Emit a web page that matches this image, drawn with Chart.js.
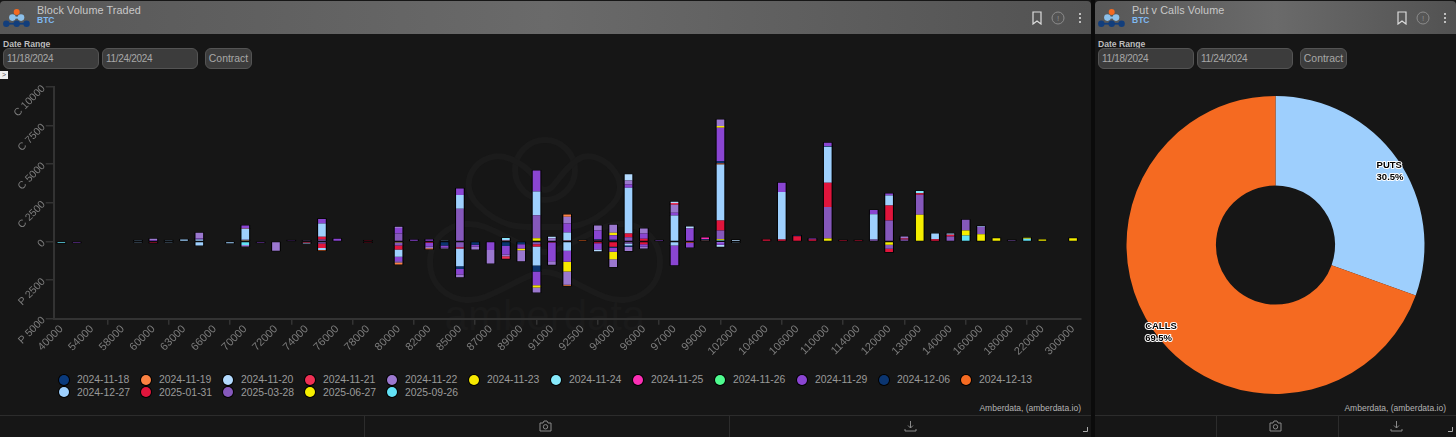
<!DOCTYPE html>
<html>
<head>
<meta charset="utf-8">
<title>Block Volume Traded</title>
<script src="https://cdn.jsdelivr.net/npm/chart.js@4"></script>
<style>
    html, body { margin: 0; padding: 0; background: #0b0b0b; }
    body { position: relative; width: 1456px; height: 437px; overflow: hidden; font-family: "Liberation Sans", sans-serif; }
    .panel { position: absolute; top: 0; height: 437px; background: #161616; overflow: hidden; }
    .head { position: absolute; left: 0; right: 0; top: 1px; height: 33px; background: linear-gradient(90deg, #575757, #6a6a6a 50%, #525252); border-radius: 4px 4px 0 0; }
    .title { position: absolute; left: 37px; top: 3.5px; font-size: 10.8px; letter-spacing: 0.1px; color: #c8c8c8; }
    .sub { position: absolute; left: 37px; top: 14.5px; font-size: 8.5px; font-weight: bold; color: #7fb9f2; }
    .range { position: absolute; left: 3px; top: 38.5px; font-size: 8.6px; font-weight: bold; color: #bdbdbd; }
    .inp { position: absolute; top: 48px; height: 19px; line-height: 19px; box-sizing: content-box; background: #3c3c3c; border: 1px solid #545454; border-radius: 6px; color: #a8a8a8; font-size: 10px; letter-spacing: -0.3px; text-indent: 3px; }
    .btn { font-size: 10.4px; letter-spacing: 0; text-align: center; text-indent: 0; width: 45px; }
    .credit { position: absolute; top: 403px; font-size: 8.5px; color: #b4b4b4; }
    .foot { position: absolute; left: 0; right: 0; top: 415px; height: 22px; border-top: 1px solid #2c2c2c; }
    .div { position: absolute; top: 0; bottom: 0; width: 1px; background: #2c2c2c; }
    .panel svg { position: absolute; }
    canvas { position: absolute; }
    #legend { position: absolute; left: 59px; top: 374px; width: 1000px; }
    #legend .item { float: left; width: 82px; height: 12.7px; line-height: 12.7px; font-size: 10.4px; color: #9a9a9a; white-space: nowrap; }
    #legend i { display: inline-block; width: 10px; height: 10px; border-radius: 50%; margin-right: 8px; vertical-align: -1.5px; box-shadow: 0 0 0 1px #000; }
    #open { position: absolute; left: 0; top: 71px; width: 8px; height: 8px; background: #eee; color: #555; font-size: 7px; line-height: 8px; text-align: center; }
</style>
</head>
<body>
<div class="panel" id="left" style="left:0;width:1091px"></div>
<div class="panel" id="right" style="left:1095px;width:361px"></div>

<script>
// strikes, every second one gets a label on the axis
const strikes = [
    40000, 50000, 54000, 56000, 58000, 59000, 60000, 62000, 63000, 64000,
    66000, 68000, 70000, 71000, 72000, 73000, 74000, 75000, 76000, 77000,
    78000, 79000, 80000, 81000, 82000, 84000, 85000, 86000, 87000, 88000,
    89000, 90000, 91000, 92000, 92500, 93000, 94000, 95000, 96000, 96500,
    97000, 98000, 99000, 100000, 102000, 103000, 104000, 105000, 106000, 108000,
    110000, 112000, 114000, 115000, 120000, 125000, 130000, 135000, 140000, 150000,
    160000, 170000, 180000, 200000, 220000, 260000, 300000
];
const expiries = ["2024-11-18", "2024-11-19", "2024-11-20", "2024-11-21", "2024-11-22", "2024-11-23", "2024-11-24", "2024-11-25", "2024-11-26", "2024-11-29", "2024-12-06", "2024-12-13", "2024-12-27", "2025-01-31", "2025-03-28", "2025-06-27", "2025-09-26"];
const expiryColors = ["#0a3a7c", "#fb8242", "#b3dafe", "#ee3054", "#9b78cf", "#f6e800", "#86e9fb", "#fb2fb4", "#4ffb8f", "#8a45d2", "#0b3570", "#f56b22", "#9ed0fe", "#e0153c", "#8558bb", "#f5ee00", "#62e2f6"];

// call volume per expiry (one value per strike)
const calls1118 = [0,0,0,0,0,0,0,0,0,0, 0,0,0,0,0,0,0,0,0,0, 0,0,0,0,0,0,0,0,0,0, 0,0,0,0,0,0,0,0,0,0, 0,0,0,0,0,0,0,0,0,0, 0,0,0,0,0,0,0,0,0,0, 0,0,0,0,0,0,0];
const calls1119 = [0,0,0,0,0,0,0,0,0,0, 0,0,0,0,0,0,0,0,0,0, 0,0,0,0,0,0,0,0,0,0, 0,0,0,150,0,0,0,0,0,0, 0,0,0,0,0,0,0,0,0,0, 0,0,0,0,0,0,0,0,0,0, 0,0,0,0,0,0,0];
const calls1120 = [0,0,0,0,0,0,0,0,0,0, 0,0,0,0,0,0,0,0,0,0, 0,0,0,0,0,0,0,0,0,0, 0,0,85,0,0,0,0,390,0,0, 85,130,0,0,60,0,0,0,0,0, 0,0,0,0,0,0,0,0,0,0, 0,0,0,0,0,0,0];
const calls1121 = [0,0,0,0,0,0,0,0,0,0, 0,0,0,0,0,0,0,0,0,0, 0,0,0,0,0,0,0,0,0,0, 0,0,0,0,0,0,0,0,0,0, 110,0,0,0,0,0,0,0,0,0, 0,0,0,0,0,0,0,0,0,0, 0,0,0,0,0,0,0];
const calls1122 = [0,0,0,0,0,0,80,0,0,370, 0,0,0,0,0,0,65,0,0,0, 0,0,90,0,0,0,0,0,0,0, 0,0,215,430,0,325,520,260,325,0, 520,0,0,430,40,0,0,0,0,0, 0,0,0,0,0,130,0,0,0,0, 0,0,0,0,0,0,0];
const calls1123 = [0,0,0,0,0,0,0,0,0,0, 0,0,0,0,0,0,0,0,0,0, 0,0,0,0,0,0,0,0,0,0, 0,0,0,0,0,0,150,0,0,0, 0,0,0,110,0,0,0,0,0,0, 0,0,0,0,0,0,0,0,0,0, 0,0,0,0,0,0,0];
const calls1124 = [0,0,0,0,0,0,0,0,0,0, 0,0,0,0,0,0,0,0,0,0, 0,0,0,0,0,0,0,0,0,65, 0,0,0,0,0,0,0,0,0,0, 0,0,0,0,0,0,0,0,0,0, 0,0,0,0,0,0,150,0,0,0, 0,0,0,0,0,0,0];
const calls1125 = [0,0,0,0,0,0,0,0,0,0, 0,0,0,0,0,0,0,0,0,0, 0,0,0,0,0,0,0,0,0,0, 0,0,0,0,0,0,0,0,0,0, 0,0,110,0,0,0,0,0,0,0, 0,0,0,0,0,0,0,0,0,0, 0,0,0,0,0,0,0];
const calls1126 = [0,0,0,0,0,0,0,0,0,0, 0,0,0,0,0,0,0,0,0,0, 0,0,0,0,0,0,0,0,0,0, 0,0,0,0,0,0,0,0,0,0, 0,0,0,0,0,0,0,0,0,0, 0,0,0,0,0,0,0,0,0,0, 0,0,0,0,0,0,0];
const calls1129 = [0,0,0,0,0,0,90,0,0,65, 0,0,195,0,0,70,0,300,170,0, 0,0,350,110,130,0,430,0,0,0, 0,1360,0,580,0,580,300,215,345,75, 175,840,0,2160,0,0,0,605,0,65, 215,0,0,260,130,0,0,0,0,0, 0,0,0,0,0,0,0];
const calls1206 = [0,0,0,0,0,0,0,0,0,0, 0,0,0,0,0,0,0,0,0,0, 0,0,0,0,0,0,0,0,0,0, 0,0,0,0,0,65,110,0,0,0, 0,0,85,150,0,0,0,0,45,0, 45,0,0,0,0,0,0,0,0,0, 0,0,0,0,0,0,0];
const calls1213 = [0,0,0,0,0,0,0,0,0,0, 0,0,20,0,0,0,0,0,0,0, 0,0,0,0,0,0,0,0,0,0, 0,0,0,0,75,0,0,0,0,0, 0,0,65,65,0,0,0,0,0,0, 0,0,0,0,0,0,0,0,0,0, 0,0,0,0,0,0,0];
const calls1227 = [0,0,0,0,0,70,0,70,130,130, 0,0,715,0,0,0,0,860,0,0, 0,0,0,0,0,30,885,0,0,90, 0,1530,0,520,0,0,0,2960,0,0, 1685,0,0,3630,0,0,0,3070,0,0, 2330,0,0,1640,650,0,0,365,85,0, 45,0,0,0,0,0,0];
const calls0131 = [0,0,0,0,0,0,0,0,0,0, 0,0,0,0,0,0,0,170,0,0, 65,0,0,0,0,0,0,0,0,65, 0,0,0,65,0,65,0,240,175,0, 0,0,0,650,0,0,130,130,345,130, 1575,80,80,0,970,65,85,150,110,0, 0,0,0,0,0,0,0];
const calls0328 = [0,0,0,0,0,0,0,0,0,0, 0,0,40,0,0,0,0,130,0,0, 0,0,520,0,0,0,2120,0,0,0, 0,1490,0,0,0,0,0,280,0,0, 0,0,0,560,0,0,0,0,0,0, 2030,0,0,130,1360,130,1300,0,325,690, 475,0,85,0,0,0,0];
const calls0627 = [0,0,0,0,0,0,0,0,0,0, 0,0,65,0,0,0,0,0,0,0, 0,0,0,0,0,0,0,0,0,0, 0,215,0,0,0,0,0,0,0,0, 0,0,0,60,0,0,0,0,0,0, 195,0,0,0,0,0,1730,0,0,325, 430,215,0,65,120,0,215];
const calls0926 = [0,0,0,0,0,0,0,0,0,0, 0,0,0,0,0,0,0,0,0,0, 0,0,0,0,0,0,0,0,0,0, 0,0,0,0,0,0,0,0,0,0, 0,0,0,85,0,0,0,0,0,0, 0,0,0,0,0,0,0,0,0,390, 45,0,0,175,0,0,0];

// put volume per expiry, negative so it stacks below zero
const puts1118 = [0,0,0,0,0,0,0,0,0,0, 0,0,0,0,0,0,0,0,0,0, 0,0,0,0,0,0,0,0,0,0, 0,0,0,0,0,0,0,0,0,0, 0,0,0,0,0,0,0,0,0,0, 0,0,0,0,0,0,0,0,0,0, 0,0,0,0,0,0,0];
const puts1119 = [0,0,0,0,0,0,0,0,0,0, 0,0,0,0,0,0,0,0,0,0, 0,0,-130,0,-60,0,0,0,0,0, 0,0,0,-65,0,0,0,0,0,0, 0,0,0,0,0,0,0,0,0,0, 0,0,0,0,0,0,0,0,0,0, 0,0,0,0,0,0,0];
const puts1120 = [0,0,0,0,0,0,0,0,0,0, 0,0,0,0,0,0,0,0,0,0, 0,0,0,0,0,0,0,0,0,0, 0,0,0,0,0,-110,0,0,0,0, 0,0,0,-130,0,0,0,0,0,0, 0,0,0,0,0,0,0,0,0,0, 0,0,0,0,0,0,0];
const puts1121 = [0,0,0,0,0,0,0,0,0,0, 0,0,0,0,0,0,0,0,0,0, 0,0,0,0,0,0,0,0,0,-175, 0,0,0,0,0,0,0,0,0,0, 0,0,0,0,0,0,0,0,0,0, 0,0,0,0,0,0,0,0,0,0, 0,0,0,0,0,0,0];
const puts1122 = [0,0,0,0,0,0,0,0,0,0, 0,0,-85,0,-600,0,0,0,0,0, 0,0,-90,0,-110,-65,-170,-200,-860,-110, -710,-325,-240,-865,0,0,-500,-280,-130,0, 0,0,0,0,0,0,0,0,0,0, 0,0,0,0,0,0,0,0,0,0, 0,0,0,0,0,0,0];
const puts1123 = [0,0,0,0,0,0,0,0,0,0, 0,0,0,0,0,0,0,0,0,0, 0,0,0,0,0,0,0,0,0,0, -110,-150,0,-625,0,0,-475,0,0,0, 0,0,0,0,0,0,0,0,0,0, 0,0,0,0,0,0,0,0,0,0, 0,0,0,0,0,0,0];
const puts1124 = [0,0,0,0,0,0,0,0,0,0, 0,0,0,0,0,0,0,0,0,0, 0,0,0,0,0,0,0,0,0,0, 0,0,0,0,0,0,0,0,0,0, 0,0,0,0,0,0,0,0,0,0, 0,0,0,0,0,0,0,0,0,0, 0,0,0,0,0,0,0];
const puts1125 = [0,0,0,0,0,0,0,0,0,0, 0,0,0,0,0,0,0,0,0,0, 0,0,0,0,0,0,0,0,0,0, 0,0,0,0,0,0,0,0,0,0, 0,0,0,0,0,0,0,0,0,0, 0,0,0,0,0,0,0,0,0,0, 0,0,0,0,0,0,0];
const puts1126 = [0,0,0,0,0,0,0,0,0,0, 0,0,0,0,0,0,0,0,0,0, 0,0,0,0,0,0,0,0,0,0, 0,0,0,0,0,0,0,0,0,0, 0,0,0,0,0,0,0,0,0,0, 0,0,0,0,0,0,0,0,0,0, 0,0,0,0,0,0,0];
const puts1129 = [0,-75,0,0,0,0,0,0,0,0, 0,0,0,-75,0,0,0,0,0,0, 0,0,-280,0,-240,-130,-370,-100,-560,-540, -280,-885,-1210,-710,0,-410,-260,0,-150,0, -1275,-300,0,-175,0,0,0,0,0,0, 0,0,0,0,0,0,0,0,0,0, 0,0,0,0,0,0,0];
const puts1206 = [0,0,0,0,0,0,0,0,0,0, 0,0,0,0,0,0,0,0,0,0, 0,0,0,0,0,-260,-170,-220,0,-300, -175,-390,0,0,0,0,-65,-85,0,0, 0,0,0,0,0,0,0,0,0,0, 0,0,0,0,0,0,0,0,0,0, 0,0,0,0,0,0,0];
const puts1213 = [0,0,0,0,0,0,0,0,0,0, 0,0,0,0,0,0,0,-20,0,0, 0,0,0,0,0,0,0,0,0,0, 0,0,0,0,0,0,0,0,0,0, 0,-85,0,0,0,0,0,0,0,0, 0,0,0,0,0,0,0,0,0,0, 0,0,0,0,0,0,0];
const puts1227 = [0,0,0,0,0,-40,0,-40,0,-260, 0,-110,0,0,0,0,-40,-130,0,0, 0,0,-475,0,0,0,-1150,0,0,0, 0,-1230,0,-560,0,0,0,-130,0,0, -260,0,0,-40,-65,0,0,0,0,0, 0,0,0,0,0,0,0,0,0,0, 0,0,0,0,0,0,0];
const puts0131 = [0,0,0,0,0,0,-85,0,0,0, 0,0,0,0,0,0,-85,-300,0,0, -65,0,-260,0,-90,0,-85,0,0,0, 0,-150,-65,-45,0,-110,-345,0,-175,0, 0,0,0,0,0,0,0,0,0,0, 0,0,0,0,-215,0,0,0,0,0, 0,0,0,0,0,0,0];
const puts0328 = [0,0,0,0,0,0,0,0,0,0, 0,0,0,0,0,0,0,-130,0,0, 0,0,-195,0,0,0,-370,0,0,0, 0,-175,0,0,0,0,0,-130,0,0, 0,0,0,0,0,0,0,0,0,0, 0,0,0,0,-260,0,0,0,0,0, 0,0,0,0,0,0,0];
const puts0627 = [0,0,0,0,0,0,0,0,0,0, 0,0,0,0,0,0,0,0,0,0, 0,0,-65,0,0,0,0,0,0,0, 0,0,0,0,0,0,0,0,0,0, 0,0,0,0,0,0,0,0,0,0, 0,0,0,0,-215,0,0,0,0,0, 0,0,0,0,0,0,0];
const puts0926 = [-100,0,0,0,0,0,0,0,0,0, 0,0,-235,0,0,0,0,0,0,0, 0,0,0,0,0,0,0,0,0,0, 0,0,0,0,0,0,0,0,0,0, 0,0,0,0,0,0,0,0,0,0, 0,0,0,0,0,0,0,0,0,0, 0,0,0,0,0,0,0];

const callSeries = [calls1118, calls1119, calls1120, calls1121, calls1122, calls1123, calls1124, calls1125, calls1126, calls1129, calls1206, calls1213, calls1227, calls0131, calls0328, calls0627, calls0926];
const putSeries = [puts1118, puts1119, puts1120, puts1121, puts1122, puts1123, puts1124, puts1125, puts1126, puts1129, puts1206, puts1213, puts1227, puts0131, puts0328, puts0627, puts0926];

const pieLabels = ["PUTS", "CALLS"];
const pieValues = [30.5, 69.5];
const pieColors = ["#9ecffd", "#f56a21"];

const logo = `<svg style="left:3px;top:7px" width="28" height="22" viewBox="3 7 28 22">
    <rect x="6" y="22.8" width="21" height="1.8" fill="#123e7c"/>
    <circle cx="16.7" cy="12" r="3" fill="#f56a21"/>
    <circle cx="12.4" cy="17.6" r="3.3" fill="#8cc0ea"/><circle cx="21" cy="17.6" r="3.3" fill="#8cc0ea"/>
    <rect x="12.4" y="16.6" width="8.6" height="2" fill="#8cc0ea"/>
    <circle cx="6.3" cy="23.7" r="3.2" fill="#123e7c"/><circle cx="16.7" cy="23.7" r="3.2" fill="#123e7c"/><circle cx="26.6" cy="23.7" r="3.2" fill="#123e7c"/>
</svg>`;

// header, date inputs and footer are the same on both panels
function buildPanel(id, title, w, footDivs, camX, dlX) {
    const icons = `<svg style="left:${w - 60}px;top:11px" width="12" height="14" viewBox="0 0 12 14"><path d="M2 1h8v12l-4-3-4 3z" fill="none" stroke="#dcdcdc" stroke-width="1.2"/></svg>
        <svg style="left:${w - 40}px;top:11px" width="14" height="14" viewBox="0 0 14 14"><circle cx="7" cy="7" r="6" fill="none" stroke="#8c8c8c"/><text x="7" y="10" font-size="8" fill="#8c8c8c" text-anchor="middle">!</text></svg>
        <svg style="left:${w - 13}px;top:12px" width="4" height="12" viewBox="0 0 4 12"><circle cx="2" cy="2" r="1" fill="#e4e4e4"/><circle cx="2" cy="6" r="1" fill="#e4e4e4"/><circle cx="2" cy="10" r="1" fill="#e4e4e4"/></svg>`;
    const camera = `<svg style="left:${camX - 6}px;top:420px" width="13" height="12" viewBox="0 0 13 12"><path d="M1 3h3l1-2h3l1 2h3v8H1z" fill="none" stroke="#8a8a8a"/><circle cx="6.5" cy="6.8" r="2.2" fill="none" stroke="#8a8a8a"/></svg>`;
    const download = `<svg style="left:${dlX - 6}px;top:420px" width="13" height="12" viewBox="0 0 13 12"><path d="M6.5 1v7M4 5.5l2.5 2.5L9 5.5M1 9v2h11V9" fill="none" stroke="#8a8a8a"/></svg>`;
    const handle = `<svg style="left:${w - 8}px;top:427px" width="5" height="5" viewBox="0 0 5 5"><path d="M4.5 0v4.5H0" fill="none" stroke="#aaa"/></svg>`;
    document.getElementById(id).innerHTML = `
        <div class="head"></div>${logo}
        <div class="title">${title}</div><div class="sub">BTC</div>${icons}
        <div class="range">Date Range</div>
        <div class="inp" style="left:3px;width:94px">11/18/2024</div>
        <div class="inp" style="left:102px;width:94px">11/24/2024</div>
        <div class="inp btn" style="left:205px">Contract</div>
        <div class="credit" style="right:10px">Amberdata, (amberdata.io)</div>
        <div class="foot">${footDivs.map(x => `<div class="div" style="left:${x}px"></div>`).join("")}</div>
        ${camera}${download}${handle}`;
}
buildPanel("left", "Block Volume Traded", 1091, [364, 729], 545, 910);
buildPanel("right", "Put v Calls Volume", 361, [121, 243], 180, 301);

// faint watermark behind the bars
document.getElementById("left").insertAdjacentHTML("beforeend", `
    <svg style="left:0;top:70px" width="1091" height="300" viewBox="0 70 1091 300">
        <g fill="none" stroke="#1b1b1b" stroke-width="6">
            <circle cx="545" cy="170" r="30"/>
            <path d="M430 262c0-30 30-45 55-35s45 25 60 25 35-15 60-25 55 5 55 35-30 45-55 35-45-25-60-25-35 15-60 25-55-5-55-35z"/>
            <path d="M478 205c-25-25 5-60 35-45s22 30 32 30 12-15 32-30 60 20 35 45-45 22-67 22-42 3-67-22z"/>
        </g>
        <text x="545" y="330" text-anchor="middle" font-size="42" fill="#1a1a1a" font-family="Liberation Sans">amberdata</text>
    </svg>
    <div id="open">&gt;</div>
    <div id="legend"></div>
    <canvas id="blockChart" width="1091" height="300" style="left:0;top:72px"></canvas>`);
document.getElementById("right").insertAdjacentHTML("beforeend", `<canvas id="pieChart" width="361" height="350" style="left:0;top:70px"></canvas>`);

document.getElementById("legend").innerHTML = expiries.map((d, i) =>
    `<div class="item"><i style="background:${expiryColors[i]}"></i>${d}</div>`).join("");

// black edge around the bars, taken from the bar elements themselves
const barEdge = {
    id: "barEdge",
    beforeDatasetsDraw(chart) {
        const ctx = chart.ctx;
        ctx.save();
        ctx.fillStyle = "#000";
        chart.data.datasets.forEach((ds, i) => {
            chart.getDatasetMeta(i).data.forEach(bar => {
                if (bar.base === bar.y) return;
                ctx.fillRect(bar.x - bar.width / 2 - 1, Math.min(bar.y, bar.base) - 0.5, bar.width + 2, Math.abs(bar.y - bar.base) + 1);
            });
        });
        ctx.restore();
    }
};

const blockDatasets = [];
expiries.forEach((d, i) => {
    // later expiries sit next to the zero line
    blockDatasets.push({ label: d + " C", data: callSeries[i], backgroundColor: expiryColors[i], order: 16 - i });
    blockDatasets.push({ label: d + " P", data: putSeries[i], backgroundColor: expiryColors[i], order: 16 - i });
});

new Chart(document.getElementById("blockChart"), {
    type: "bar",
    data: { labels: strikes.map(String), datasets: blockDatasets },
    plugins: [barEdge],
    options: {
        responsive: false,
        animation: false,
        layout: { padding: { top: 15, right: 10.3 } },
        plugins: { legend: { display: false }, tooltip: { enabled: false } },
        datasets: { bar: { barPercentage: 0.5, categoryPercentage: 1 } },
        scales: {
            x: {
                stacked: true,
                afterFit(s) { s.height = 53.3; },
                border: { color: "#333", width: 2 },
                grid: { drawOnChartArea: false, color: "#333", tickLength: 6, lineWidth: 1.5 },
                ticks: { color: "#7c7c7c", font: { family: "Liberation Sans", size: 11 }, minRotation: 45, maxRotation: 45, autoSkip: true, autoSkipPadding: 0, maxTicksLimit: 34, padding: -2 }
            },
            y: {
                stacked: true,
                min: -5000,
                max: 10000,
                afterFit(s) { s.width = 53.7; },
                border: { color: "#333", width: 2 },
                grid: { drawOnChartArea: false, color: "#333", tickLength: 8, lineWidth: 1.5 },
                ticks: {
                    stepSize: 2500,
                    color: "#7c7c7c",
                    font: { family: "Liberation Sans", size: 10.5 },
                    minRotation: 45,
                    maxRotation: 45,
                    padding: 2,
                    callback: v => v > 0 ? "C " + v : v < 0 ? "P " + (-v) : "0"
                }
            }
        }
    }
});

// PUTS / CALLS text at the rim of each slice
const sliceLabels = {
    id: "sliceLabels",
    afterDatasetsDraw(chart) {
        const ctx = chart.ctx;
        const total = pieValues.reduce((a, b) => a + b, 0);
        ctx.save();
        ctx.font = "bold 9.5px Liberation Sans";
        ctx.textBaseline = "middle";
        ctx.lineJoin = "round";
        chart.getDatasetMeta(0).data.forEach((arc, i) => {
            const mid = (arc.startAngle + arc.endAngle) / 2;
            const cx = arc.x + Math.cos(mid) * 140;
            const cy = arc.y + Math.sin(mid) * 140 + 7;
            const lines = [pieLabels[i], (pieValues[i] / total * 100).toFixed(1) + "%"];
            const left = cx - Math.max(ctx.measureText(lines[0]).width, ctx.measureText(lines[1]).width) / 2;
            lines.forEach((t, k) => {
                ctx.strokeStyle = "#fff";
                ctx.lineWidth = 2;
                ctx.strokeText(t, left, cy + (k ? 6 : -6));
                ctx.fillStyle = "#000";
                ctx.fillText(t, left, cy + (k ? 6 : -6));
            });
        });
        ctx.restore();
    }
};

new Chart(document.getElementById("pieChart"), {
    type: "doughnut",
    data: { labels: pieLabels, datasets: [{ data: pieValues, backgroundColor: pieColors, borderWidth: 0 }] },
    plugins: [sliceLabels],
    options: {
        responsive: false,
        animation: false,
        radius: 149,
        cutout: "40%",
        plugins: { legend: { display: false }, tooltip: { enabled: false } }
    }
});
</script>
</body>
</html>
